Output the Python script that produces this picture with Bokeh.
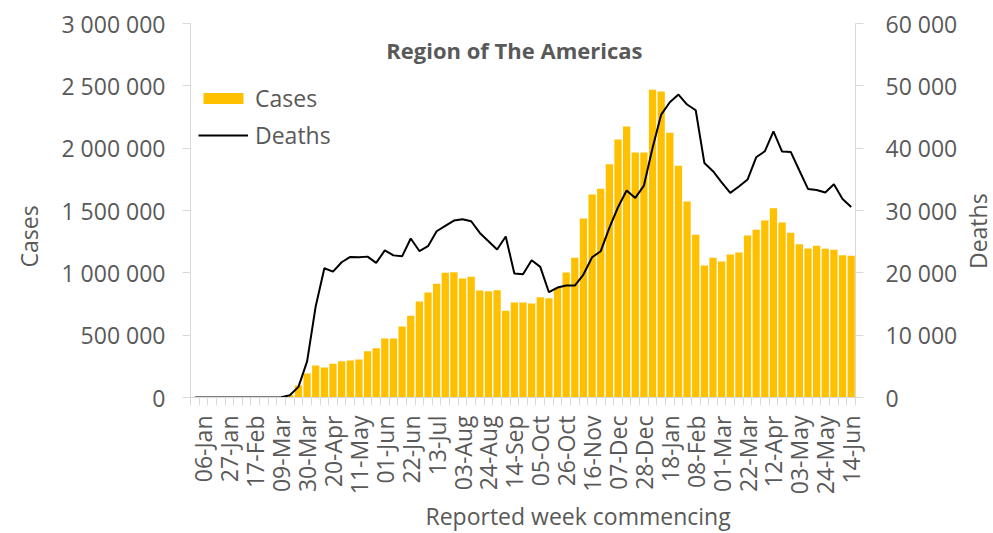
import math
from bokeh.plotting import figure
from bokeh.layouts import row
from bokeh.models import (ColumnDataSource, Range1d, LinearAxis, FixedTicker, Label, Title)
from bokeh.embed import file_html
from bokeh.resources import INLINE

# ---------------- data ----------------
week_labels = ["06-Jan", "27-Jan", "17-Feb", "09-Mar", "30-Mar", "20-Apr", "11-May",
               "01-Jun", "22-Jun", "13-Jul", "03-Aug", "24-Aug", "14-Sep", "05-Oct",
               "26-Oct", "16-Nov", "07-Dec", "28-Dec", "18-Jan", "08-Feb", "01-Mar",
               "22-Mar", "12-Apr", "03-May", "24-May", "14-Jun"]
# weekly series, first week = 30-Dec-2019, last week = 14-Jun-2021
cases = [0, 0, 0, 0, 0, 0, 0, 0, 0, 500, 3000, 20000,
         96000, 192000, 257000, 241000, 270000, 291000, 297000, 305000,
         371000, 396000, 473000, 473000, 569000, 655000, 770000, 842000,
         912000, 1000000, 1005000, 955000, 968000, 858000, 853000, 861000,
         695000, 762000, 762000, 754000, 805000, 796000, 881000, 1003000,
         1120000, 1436000, 1628000, 1674000, 1871000, 2069000, 2174000, 1965000,
         1965000, 2468000, 2454000, 2123000, 1858000, 1572000, 1305000, 1059000,
         1120000, 1091000, 1147000, 1163000, 1299000, 1345000, 1420000, 1519000,
         1404000, 1321000, 1230000, 1195000, 1217000, 1193000, 1185000, 1141000,
         1137000]
deaths = [0, 0, 0, 0, 0, 0, 0, 0, 0, 0, 50, 370,
          1700, 5800, 14650, 20740, 20200, 21700, 22550, 22500,
          22600, 21600, 23600, 22800, 22650, 25500, 23500, 24270,
          26670, 27530, 28390, 28600, 28280, 26400, 25070, 23740,
          25820, 19890, 19780, 22020, 20950, 16890, 17640, 17960,
          17960, 19730, 22500, 23470, 27200, 30520, 33200, 32020,
          34000, 40040, 45390, 47370, 48600, 47000, 46080, 37630,
          36300, 34530, 32820, 33840, 34970, 38540, 39500, 42710,
          39460, 39400, 36410, 33460, 33300, 32880, 34210, 31860,
          30570]
case_ticks = [0, 500000, 1000000, 1500000, 2000000, 2500000, 3000000]
death_ticks = [0, 10000, 20000, 30000, 40000, 50000, 60000]

title_text = "Region of The Americas"
x_title = "Reported week commencing"
y_title = "Cases"
y2_title = "Deaths"

# ---------------- build ----------------
n = len(cases)
idx = list(range(n))
label_idx = [1 + 3 * k for k in range(len(week_labels))]

src = ColumnDataSource(dict(x=idx, cases=cases, deaths=deaths))

FONT = "Open Sans"
TXT = "#595959"
GRAY = "#D9D9D9"
FS = "23px"

p = figure(width=960, height=533, output_backend="svg", toolbar_location=None,
           x_range=Range1d(-0.5, n - 0.5), y_range=Range1d(0, 3000000),
           min_border_left=188, min_border_right=105, min_border_top=23,
           min_border_bottom=136)
p.title.text = ""
p.outline_line_color = None
p.xgrid.visible = False
p.ygrid.visible = False
p.background_fill_color = "white"
p.border_fill_color = "white"

p.extra_y_ranges = {"deaths": Range1d(0, 60000)}

def fmt(v):
    return f"{v:,}".replace(",", " ")

# bottom axis
xa = p.xaxis[0]
xa.ticker = FixedTicker(ticks=label_idx, minor_ticks=[k - 0.5 for k in range(n + 1)])
xa.major_label_overrides = {i: lab for i, lab in zip(label_idx, week_labels)}
xa.major_label_orientation = math.pi / 2
xa.major_tick_line_color = None
xa.major_tick_out = 8
xa.major_tick_in = 0
xa.minor_tick_out = 8
xa.minor_tick_in = 0
xa.minor_tick_line_color = GRAY
xa.axis_line_color = GRAY
xa.major_label_standoff = 10
xa.major_label_text_font = FONT
xa.major_label_text_font_size = FS
xa.major_label_text_color = TXT

# left axis
ya = p.yaxis[0]
ya.ticker = FixedTicker(ticks=case_ticks)
ya.major_label_overrides = {t: fmt(t) for t in case_ticks}
ya.major_tick_out = 8
ya.major_tick_in = 0
ya.minor_tick_line_color = None
ya.major_tick_line_color = GRAY
ya.axis_line_color = GRAY
ya.major_label_standoff = 17
ya.major_label_text_font = FONT
ya.major_label_text_font_size = FS
ya.major_label_text_color = TXT

# right axis
ra = LinearAxis(y_range_name="deaths", ticker=FixedTicker(ticks=death_ticks),
                major_label_overrides={t: fmt(t) for t in death_ticks})
ra.major_tick_out = 8
ra.major_tick_in = 0
ra.minor_tick_line_color = None
ra.major_tick_line_color = GRAY
ra.axis_line_color = GRAY
ra.major_label_standoff = 22
ra.major_label_text_font = FONT
ra.major_label_text_font_size = FS
ra.major_label_text_color = TXT
p.add_layout(ra, "right")

# glyphs
p.vbar(x="x", top="cases", bottom=0, width=0.84, source=src,
       fill_color="#FFC000", line_color=None, legend_label="Cases")
p.line(x="x", y="deaths", source=src, y_range_name="deaths",
       line_color="black", line_width=2, legend_label="Deaths")

lg = p.legend[0]
lg.location = (8, 246)
lg.label_text_font = FONT
lg.label_text_font_size = FS
lg.label_text_color = TXT
lg.glyph_width = 50
lg.glyph_height = 14
lg.label_standoff = 7
lg.padding = 0
lg.spacing = 5
lg.margin = 0
lg.border_line_color = None
lg.background_fill_alpha = 0

# chart title inside the plot area
p.add_layout(Label(x=37.0, y=2786000, text=title_text, text_font=FONT,
                   text_font_size="22px", text_font_style="bold", text_color=TXT,
                   text_align="center", text_baseline="middle"))

# axis titles placed as side titles (allow offset along the axis)
p.add_layout(Title(text=y_title, align="left", offset=130, vertical_align="top",
                   standoff=24, text_font=FONT, text_font_size=FS,
                   text_font_style="normal", text_color=TXT), "left")
p.add_layout(Title(text=x_title, align="left", offset=235, vertical_align="bottom",
                   standoff=0, text_font=FONT, text_font_size=FS,
                   text_font_style="normal", text_color=TXT), "below")

# narrow strip on the right that carries the secondary axis title
p2 = figure(width=33, height=533, output_backend="svg", toolbar_location=None,
            x_range=Range1d(0, 33), y_range=Range1d(0, 533),
            x_axis_location=None, y_axis_location=None, min_border=0)
p2.title.text = ""
p2.outline_line_color = None
p2.grid.visible = False
p2.background_fill_color = "white"
p2.border_fill_color = "white"
p2.add_layout(Label(x=17, y=237, text=y2_title, text_font=FONT,
                    text_font_size=FS, text_color=TXT, angle=math.pi / 2,
                    text_align="center", text_baseline="middle"))

layout = row(p, p2, spacing=0)
open("out.html", "w").write(file_html(layout, INLINE))
